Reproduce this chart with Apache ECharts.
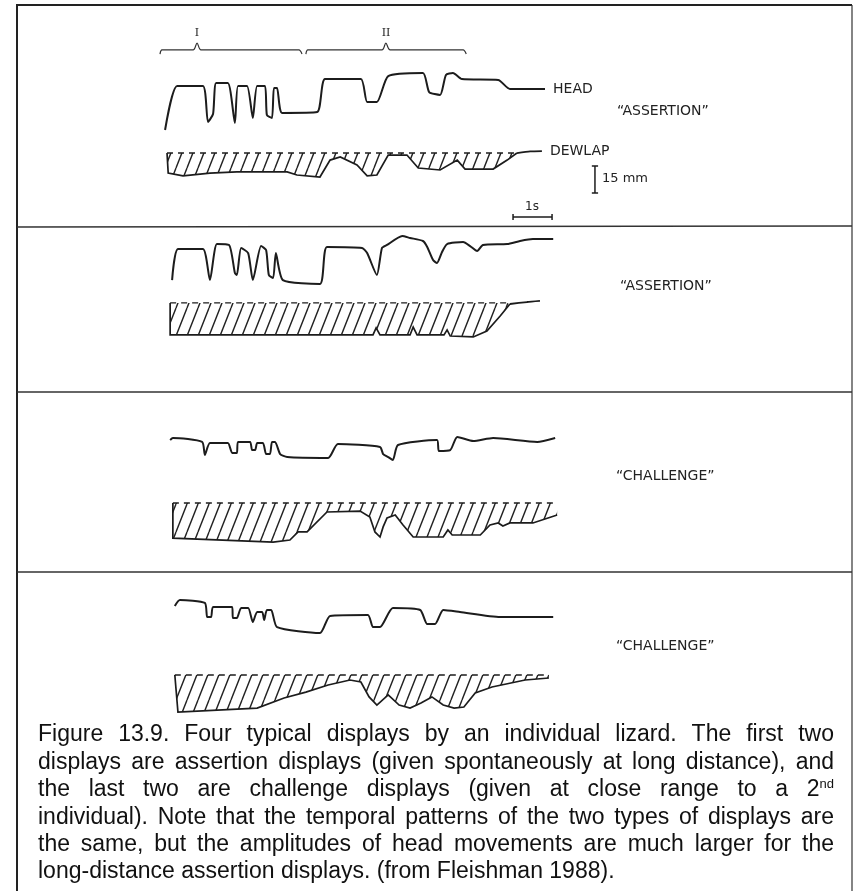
<!DOCTYPE html>
<html>
<head>
<meta charset="utf-8">
<script src="https://cdn.jsdelivr.net/npm/echarts@6/dist/echarts.min.js"></script>
<style>
  html, body { margin: 0; padding: 0; background: #fff; }
  #chart { width: 857px; height: 891px; }
</style>
</head>
<body>
<div id="chart"></div>
<script>
// traces: [time in s, displacement in mm]
var head1 = [[0.13,31.1],[0.44,55.6],[1.10,55.6],[1.23,35.6],[1.36,40.0],[1.44,57.2],[1.74,57.2],[1.92,35.0],[2.00,55.6],[2.23,55.6],[2.38,37.8],[2.49,55.6],[2.69,55.6],[2.74,39.4],[2.87,37.8],[2.92,54.4],[3.00,54.4],[3.13,40.6],[4.03,41.1],[4.23,59.4],[5.15,59.4],[5.31,46.7],[5.56,46.7],[5.85,61.1],[6.74,62.8],[6.90,52.2],[7.18,50.6],[7.33,61.7],[7.51,62.8],[7.74,59.4],[8.67,58.9],[8.97,53.9],[9.87,53.9]];
var dewlapTop1 = [[0.18,18.3],[9.15,18.3]];
var dewlapBottom1 = [[0.21,7.2],[0.59,5.6],[1.28,7.2],[1.97,7.8],[3.26,7.8],[3.51,6.1],[4.10,5.0],[4.36,14.4],[4.62,16.1],[5.05,11.7],[5.31,5.6],[5.56,6.1],[5.85,17.2],[6.33,17.2],[6.62,10.0],[7.18,8.9],[7.62,14.4],[7.82,9.4],[8.54,9.4],[8.90,14.4],[9.15,18.3]];
var dewlapTail1 = [[9.15,18.3],[9.49,19.2],[9.79,19.4]];

var head2 = [[0.31,33.3],[0.46,50.6],[1.10,50.6],[1.28,33.3],[1.46,53.3],[1.77,52.8],[1.92,37.2],[1.97,36.1],[2.08,51.1],[2.26,48.3],[2.38,33.3],[2.59,52.2],[2.72,50.0],[2.79,36.1],[2.90,34.4],[2.97,48.3],[3.15,33.3],[4.10,31.1],[4.28,51.7],[5.18,51.1],[5.31,48.3],[5.56,36.1],[5.69,51.1],[5.82,52.8],[6.21,57.8],[6.41,56.7],[6.74,55.0],[6.85,51.7],[7.00,44.4],[7.10,42.8],[7.23,48.9],[7.36,53.3],[7.77,54.4],[7.95,52.2],[8.13,49.4],[8.28,52.8],[8.90,53.3],[9.23,55.0],[9.56,56.1],[10.08,56.1]];
var dewlapTop2 = [[0.26,20.6],[8.90,20.6]];
var dewlapBottom2 = [[0.26,2.8],[5.46,2.8],[5.54,6.7],[5.64,2.8],[6.41,2.8],[6.49,7.2],[6.59,2.8],[7.28,2.8],[7.36,5.6],[7.44,2.2],[8.03,1.7],[8.38,5.0],[8.72,13.3],[8.97,20.0]];
var dewlapTail2 = [[8.97,20.0],[9.41,21.1],[9.74,21.7]];

var head3 = [[0.26,58.9],[0.33,60.0],[1.08,57.8],[1.15,50.6],[1.28,57.2],[1.74,57.2],[1.85,51.7],[1.97,51.7],[2.00,57.8],[2.31,57.8],[2.36,53.3],[2.44,53.3],[2.49,57.2],[2.64,57.2],[2.72,51.1],[2.82,51.1],[2.87,57.8],[2.95,57.8],[3.08,51.1],[3.26,49.4],[4.31,48.9],[4.56,56.7],[5.64,55.0],[5.72,51.1],[5.85,49.4],[5.97,47.8],[6.10,56.1],[7.10,58.9],[7.15,52.8],[7.44,53.3],[7.62,60.6],[8.03,58.3],[8.54,60.0],[9.67,57.8],[10.13,60.0]];
var dewlapTop3 = [[0.33,23.9],[10.18,23.9]];
var dewlapBottom3 = [[0.33,4.4],[2.90,2.2],[3.33,3.3],[3.54,7.8],[3.77,7.8],[4.28,18.9],[5.13,19.4],[5.38,16.1],[5.51,7.8],[5.64,5.0],[5.72,10.6],[5.82,15.6],[6.03,17.2],[6.23,11.7],[6.49,5.0],[7.26,5.0],[7.38,8.9],[7.49,6.1],[8.21,6.1],[8.46,11.7],[8.67,12.8],[8.79,11.1],[8.97,12.8],[9.56,12.8],[10.18,17.2]];

var head4 = [[0.38,61.1],[0.51,64.4],[1.15,62.8],[1.21,55.0],[1.31,55.0],[1.36,60.6],[1.85,60.6],[1.87,54.4],[1.97,54.4],[2.08,60.0],[2.26,60.0],[2.38,52.2],[2.49,57.8],[2.62,57.8],[2.67,53.3],[2.74,58.9],[2.85,58.9],[3.00,49.4],[4.10,46.1],[4.36,55.6],[5.33,56.1],[5.46,49.4],[5.64,49.4],[5.97,60.0],[6.67,58.9],[6.85,51.1],[7.05,51.1],[7.26,58.9],[7.69,57.8],[8.72,55.0],[10.08,55.0]];
var dewlapTop4 = [[0.38,22.8],[9.97,22.8]];
var dewlapBottom4 = [[0.46,2.2],[2.49,4.4],[3.18,10.0],[3.74,13.3],[4.31,17.2],[4.87,20.0],[5.15,18.9],[5.36,10.6],[5.56,6.1],[5.85,11.7],[6.13,6.1],[6.41,4.4],[6.69,7.2],[6.97,10.6],[7.26,6.1],[7.54,4.4],[7.79,5.0],[8.08,12.8],[8.51,16.1],[9.36,20.0],[9.97,21.1]];

// phase braces and scale bars (panel 1 units)
var braceI = [[0.00,73.3],[0.05,75.6],[0.85,75.6],[0.95,79.4],[1.05,75.6],[3.56,75.6],[3.64,73.3]];
var braceII = [[3.74,73.3],[3.79,75.6],[5.69,75.6],[5.79,79.4],[5.90,75.6],[7.77,75.6],[7.85,73.3]];
var scaleMm = [[11.07,11.1],[11.23,11.1],[11.15,11.1],[11.15,-3.9],[11.07,-3.9],[11.23,-3.9]];
var scaleSec = [[9.05,-15.6],[9.05,-18.9],[9.05,-17.2],[10.05,-17.2],[10.05,-15.6],[10.05,-18.9]];

var displayNames = ['\u201CASSERTION\u201D', '\u201CASSERTION\u201D', '\u201CCHALLENGE\u201D', '\u201CCHALLENGE\u201D'];
var captionLines = [
  'Figure 13.9. Four typical displays by an individual lizard. The first two',
  'displays are assertion displays (given spontaneously at long distance), and',
  'the last two are challenge displays (given at close range to a 2nd',
  'individual). Note that the temporal patterns of the two types of displays are',
  'the same, but the amplitudes of head movements are much larger for the',
  'long-distance assertion displays. (from Fleishman 1988).'
];

var chartDom = document.getElementById('chart');
var myChart = echarts.init(chartDom);

var ink = '#1c1c1c';
var panels = [
  { top: 24, height: 207, min: -25, max: 90 },
  { top: 223, height: 126, min: -5, max: 65 },
  { top: 429, height: 126, min: -5, max: 65 },
  { top: 590, height: 135, min: -5, max: 70 }
];

// diagonal hatching for the dewlap area
var hatch = document.createElement('canvas');
hatch.width = 11; hatch.height = 28;
(function () {
  var c = hatch.getContext('2d');
  c.strokeStyle = '#222';
  c.lineWidth = 1.4;
  [-11, 0, 11].forEach(function (x0) {
    c.beginPath();
    c.moveTo(x0, 28);
    c.lineTo(x0 + 11, 0);
    c.stroke();
  });
})();

function trace(idx, data, opts) {
  opts = opts || {};
  var s = {
    type: 'line',
    xAxisIndex: idx,
    yAxisIndex: idx,
    data: data,
    symbol: 'none',
    smooth: opts.smooth == null ? 0.2 : opts.smooth,
    clip: false,
    silent: true,
    lineStyle: { color: opts.color || ink, width: opts.width || 2 }
  };
  if (opts.label) {
    s.endLabel = {
      show: true,
      formatter: opts.label,
      color: '#222',
      fontFamily: 'DejaVu Sans',
      fontSize: 14,
      distance: 8
    };
  }
  return s;
}

function dewlap(idx, top, bottom) {
  return {
    type: 'custom',
    xAxisIndex: idx,
    yAxisIndex: idx,
    data: [top[0]],
    silent: true,
    renderItem: function (params, api) {
      var t = top.map(function (p) { return api.coord(p); });
      var b = bottom.map(function (p) { return api.coord(p); });
      return {
        type: 'group',
        children: [
          { type: 'polygon', shape: { points: t.concat(b.slice().reverse()) },
            style: { fill: { image: hatch, repeat: 'repeat' }, stroke: null } },
          { type: 'polyline', shape: { points: [t[0]].concat(b) },
            style: { fill: null, stroke: ink, lineWidth: 1.7 } },
          { type: 'polyline', shape: { points: t },
            style: { fill: null, stroke: ink, lineWidth: 1.4, lineDash: [6, 5] } }
        ]
      };
    }
  };
}

// justified caption, word by word
var measure = document.createElement('canvas').getContext('2d');
var capSize = 23, supSize = 13;
var capFamily = '"Liberation Sans", Arial, sans-serif';
function wordWidth(w) {
  measure.font = capSize + 'px ' + capFamily;
  if (w === '2nd') {
    var a = measure.measureText('2').width;
    measure.font = supSize + 'px ' + capFamily;
    return a + measure.measureText('nd').width;
  }
  return measure.measureText(w).width;
}
var capLeft = 38, capRight = 834, capTop = 735, capStep = 27.4;
var captionGraphics = [];
captionLines.forEach(function (line, li) {
  var words = line.split(' ');
  var widths = words.map(wordWidth);
  var total = widths.reduce(function (a, b) { return a + b; }, 0);
  measure.font = capSize + 'px ' + capFamily;
  var gap = li === captionLines.length - 1
    ? measure.measureText(' ').width
    : (capRight - capLeft - total) / (words.length - 1);
  var x = capLeft;
  words.forEach(function (w, wi) {
    var st = {
      text: w,
      x: 0, y: 0,
      fill: '#111',
      fontSize: capSize,
      fontFamily: capFamily,
      align: 'left', verticalAlign: 'middle',
      textAlign: 'left', textVerticalAlign: 'middle'
    };
    if (w === '2nd') {
      st.text = '{a|2}{b|nd}';
      st.rich = {
        a: { fontSize: capSize, fontFamily: capFamily, fill: '#111' },
        b: { fontSize: supSize, fontFamily: capFamily, fill: '#111', verticalAlign: 'top' }
      };
    }
    captionGraphics.push({ type: 'text', x: x, y: capTop + li * capStep, style: st, silent: true });
    x += widths[wi] + gap;
  });
});

function label(text, x, y, size, family, align) {
  return {
    type: 'text', x: x, y: y, silent: true,
    style: {
      text: text, fill: '#222', fontSize: size, fontFamily: family || 'DejaVu Sans',
      align: align || 'left', verticalAlign: 'middle',
      textAlign: align || 'left', textVerticalAlign: 'middle'
    }
  };
}

var option = {
  animation: false,
  backgroundColor: '#fff',
  grid: panels.map(function (p) {
    return { left: 160, width: 520, top: p.top, height: p.height };
  }),
  xAxis: panels.map(function (p, i) {
    return { type: 'value', gridIndex: i, min: 0, max: 13.33, show: false };
  }),
  yAxis: panels.map(function (p, i) {
    return { type: 'value', gridIndex: i, min: p.min, max: p.max, show: false };
  }),
  series: [
    trace(0, braceI, { width: 1.2, color: '#333', smooth: 0.3 }),
    trace(0, braceII, { width: 1.2, color: '#333', smooth: 0.3 }),
    trace(0, scaleMm, { width: 1.5, smooth: 0 }),
    trace(0, scaleSec, { width: 1.5, smooth: 0 }),
    dewlap(0, dewlapTop1, dewlapBottom1),
    trace(0, dewlapTail1, { width: 1.8, label: 'DEWLAP' }),
    trace(0, head1, { label: 'HEAD' }),
    dewlap(1, dewlapTop2, dewlapBottom2),
    trace(1, dewlapTail2, { width: 1.8 }),
    trace(1, head2),
    dewlap(2, dewlapTop3, dewlapBottom3),
    trace(2, head3),
    dewlap(3, dewlapTop4, dewlapBottom4),
    trace(3, head4)
  ],
  graphic: [
    { type: 'polyline', silent: true, shape: { points: [[17, 895], [17, 5], [852, 5]] },
      style: { fill: null, stroke: '#222', lineWidth: 2 } },
    { type: 'line', silent: true, shape: { x1: 852, y1: 5, x2: 852, y2: 895 },
      style: { stroke: '#333', lineWidth: 1.2 } },
    { type: 'line', silent: true, shape: { x1: 17, y1: 227, x2: 852, y2: 226 },
      style: { stroke: '#333', lineWidth: 1.5 } },
    { type: 'line', silent: true, shape: { x1: 17, y1: 392, x2: 852, y2: 392 },
      style: { stroke: '#333', lineWidth: 1.5 } },
    { type: 'line', silent: true, shape: { x1: 17, y1: 572, x2: 852, y2: 572 },
      style: { stroke: '#333', lineWidth: 1.5 } },
    label('I', 197, 33, 11, 'DejaVu Serif', 'center'),
    label('II', 386, 33, 11, 'DejaVu Serif', 'center'),
    label(displayNames[0], 617, 111, 14),
    label('15 mm', 602, 179, 13),
    label('1s', 532, 207, 12, null, 'center'),
    label(displayNames[1], 620, 286, 14),
    label(displayNames[2], 616, 476, 14),
    label(displayNames[3], 616, 646, 14)
  ].concat(captionGraphics)
};

option && myChart.setOption(option);
</script>
</body>
</html>
